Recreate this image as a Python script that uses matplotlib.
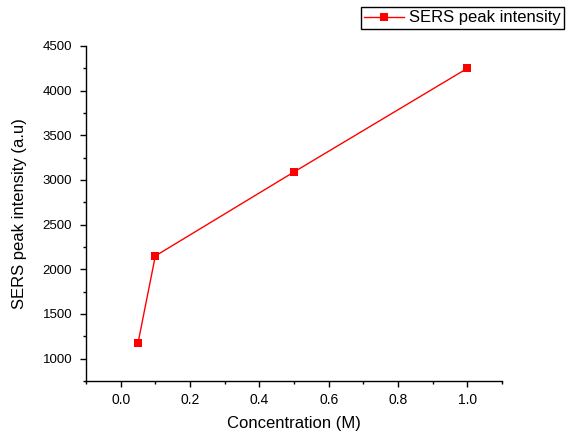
import matplotlib
matplotlib.use("Agg")
import matplotlib.pyplot as plt
from matplotlib.ticker import MultipleLocator

plt.rcParams['font.family'] = ['Liberation Sans', 'DejaVu Sans']

# data
concentration = [0.05, 0.1, 0.5, 1.0]
intensity = [1175, 2150, 3090, 4250]
series_name = 'SERS peak intensity'

fig = plt.figure(figsize=(5.68, 4.34), dpi=100)
ax = fig.add_axes([86 / 568, 53 / 434, 416 / 568, 335 / 434])

line, = ax.plot(concentration, intensity, color='#ff0000', lw=1.0,
                marker='s', markersize=6, markeredgewidth=0)

ax.set_xlim(-0.1, 1.1)
ax.set_ylim(750, 4500)
ax.xaxis.set_major_locator(MultipleLocator(0.2))
ax.xaxis.set_minor_locator(MultipleLocator(0.1))
ax.yaxis.set_major_locator(MultipleLocator(500))
ax.yaxis.set_minor_locator(MultipleLocator(250))
ax.set_yticks([1000, 1500, 2000, 2500, 3000, 3500, 4000, 4500])
ax.set_xticks([0.0, 0.2, 0.4, 0.6, 0.8, 1.0])

ax.spines['top'].set_visible(False)
ax.spines['right'].set_visible(False)
for s in ('left', 'bottom'):
    ax.spines[s].set_linewidth(1.0)

ax.tick_params(which='major', direction='out', length=4, width=1)
ax.tick_params(which='minor', direction='out', length=2.5, width=1)
ax.tick_params(axis='x', labelsize=10, pad=5)
ax.tick_params(axis='y', labelsize=9.5, pad=6)

ax.set_xlabel('Concentration (M)', fontsize=12, labelpad=6)
ax.set_ylabel('SERS peak intensity (a.u)', fontsize=12, labelpad=11)

fig.legend([line], [series_name], loc='upper left',
           bbox_to_anchor=(361 / 568, 1 - 7 / 434), fontsize=12,
           frameon=True, fancybox=False, edgecolor='black', framealpha=1,
           borderpad=0.2, handlelength=2.4, handletextpad=0.3,
           borderaxespad=0)

fig.savefig('out.png', dpi=100)
